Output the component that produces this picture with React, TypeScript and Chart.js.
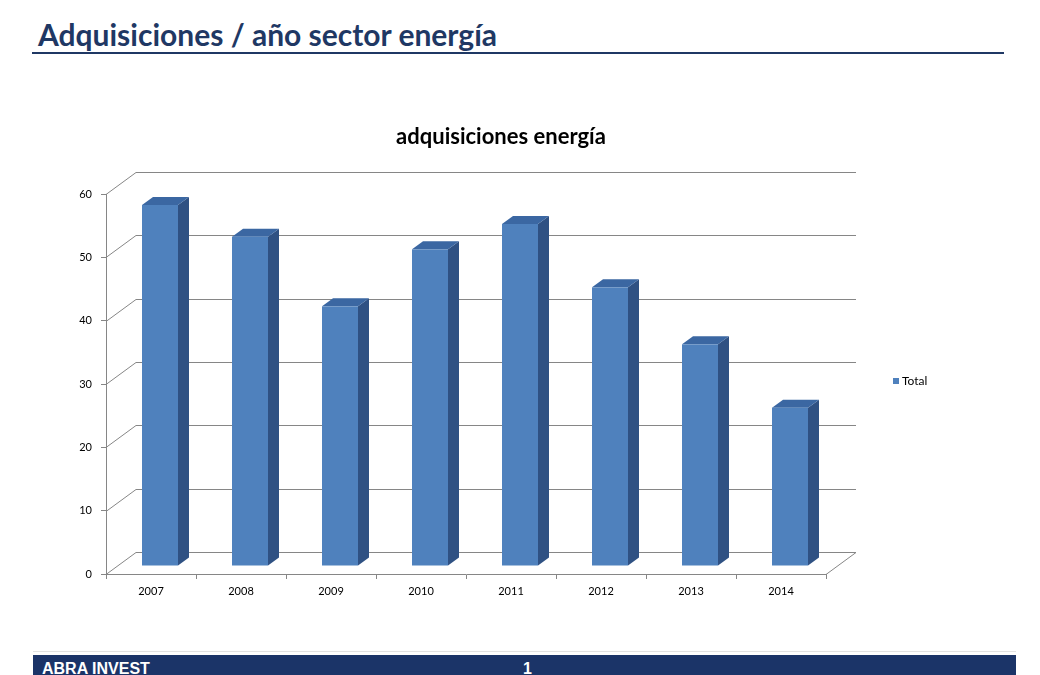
import React, { useEffect, useRef } from "react";
import { Chart, registerables } from "chart.js";

Chart.register(...registerables);

const categories = ["2007", "2008", "2009", "2010", "2011", "2012", "2013", "2014"];
const totals = [57, 52, 41, 50, 54, 44, 35, 25];
const seriesName = "Total";
const chartTitle = "adquisiciones energía";
const pageTitle = "Adquisiciones / año sector energía";
const footerLeft = "ABRA INVEST";
const footerPage = "1";

const FRONT = "#4F81BD";
const SIDE = "#2F5183";
const TOP = "#3B67A2";
const GRID = "#868686";
const FONT = "Lato, 'Noto Sans', sans-serif";

// wall depth and bar offsets (pixels)
const WALL_DX = 30;
const WALL_DY = -22;
const BAR_OX = 9;
const BAR_OY = -8;
const SIDE_DX = 11;
const SIDE_DY = -8;

const threeD = {
  id: "threeD",
  beforeDatasetsDraw(chart: any) {
    const { ctx, chartArea } = chart;
    const y = chart.scales.y;
    const { left, right, bottom } = chartArea;
    ctx.save();
    ctx.strokeStyle = GRID;
    ctx.lineWidth = 1;
    y.ticks.forEach((t: any) => {
      const py = Math.round(y.getPixelForValue(t.value)) + 0.5;
      ctx.beginPath();
      ctx.moveTo(left, py);
      ctx.lineTo(left + WALL_DX, py + WALL_DY);
      ctx.lineTo(right + WALL_DX, py + WALL_DY);
      ctx.stroke();
    });
    const by = Math.round(bottom) + 0.5;
    ctx.beginPath();
    ctx.moveTo(right, by);
    ctx.lineTo(right + WALL_DX, by + WALL_DY);
    ctx.stroke();
    ctx.restore();
  },
  afterDatasetsDraw(chart: any) {
    const { ctx } = chart;
    const meta = chart.getDatasetMeta(0);
    ctx.save();
    meta.data.forEach((el: any) => {
      const p = el.getProps(["x", "y", "base", "width"], true);
      const x1 = p.x - p.width / 2 + BAR_OX;
      const x2 = p.x + p.width / 2 + BAR_OX;
      const top = p.y + BAR_OY;
      const bot = p.base + BAR_OY;
      // side
      ctx.fillStyle = SIDE;
      ctx.beginPath();
      ctx.moveTo(x2, top);
      ctx.lineTo(x2 + SIDE_DX, top + SIDE_DY);
      ctx.lineTo(x2 + SIDE_DX, bot + SIDE_DY);
      ctx.lineTo(x2, bot);
      ctx.closePath();
      ctx.fill();
      // top
      ctx.fillStyle = TOP;
      ctx.beginPath();
      ctx.moveTo(x1, top);
      ctx.lineTo(x1 + SIDE_DX, top + SIDE_DY);
      ctx.lineTo(x2 + SIDE_DX, top + SIDE_DY);
      ctx.lineTo(x2, top);
      ctx.closePath();
      ctx.fill();
      // front
      ctx.fillStyle = FRONT;
      ctx.fillRect(x1, top, x2 - x1, bot - top);
    });
    ctx.restore();
  },
  afterDraw(chart: any) {
    const { ctx } = chart;
    ctx.save();
    ctx.fillStyle = "#000";
    ctx.font = `bold 22px ${FONT}`;
    ctx.textAlign = "center";
    ctx.textBaseline = "middle";
    ctx.fillText(chartTitle, 501, 137);
    // legend
    ctx.fillStyle = FRONT;
    ctx.fillRect(893, 378, 6, 6);
    ctx.fillStyle = "#000";
    ctx.font = `12px ${FONT}`;
    ctx.textAlign = "left";
    ctx.fillText(seriesName, 902, 381);
    ctx.restore();
  },
};

function ChartCanvas() {
  const ref = useRef<HTMLCanvasElement>(null);
  useEffect(() => {
    if (!ref.current) return;
    const chart = new Chart(ref.current, {
      type: "bar",
      data: {
        labels: categories,
        datasets: [
          {
            label: seriesName,
            data: totals,
            backgroundColor: "rgba(0,0,0,0)",
            borderWidth: 0,
            categoryPercentage: 1,
            barPercentage: 0.4,
          },
        ],
      },
      options: {
        animation: false,
        responsive: false,
        devicePixelRatio: 1,
        layout: { padding: { left: 76, top: 194, right: 214, bottom: 71 } },
        plugins: { legend: { display: false }, title: { display: false }, tooltip: { enabled: false } },
        scales: {
          x: {
            afterFit: (s: any) => {
              s.height = 30;
            },
            grid: { drawOnChartArea: false, drawTicks: true, tickLength: 5, color: GRID, offset: true },
            border: { display: true, color: GRID },
            ticks: { color: "#000", font: { family: FONT, size: 11 }, padding: 6, maxRotation: 0 },
          },
          y: {
            min: 0,
            max: 60,
            afterFit: (s: any) => {
              s.width = 30;
            },
            grid: { drawOnChartArea: false, drawTicks: true, tickLength: 5, color: GRID },
            border: { display: true, color: GRID },
            ticks: { stepSize: 10, color: "#000", font: { family: FONT, size: 11 }, padding: 9 },
          },
        },
      },
      plugins: [threeD],
    });
    return () => chart.destroy();
  }, []);
  return (
    <canvas
      ref={ref}
      width={1040}
      height={675}
      style={{ position: "absolute", left: 0, top: 0, width: 1040, height: 675 }}
    />
  );
}

export default function App() {
  return (
    <div
      style={{
        position: "fixed",
        left: 0,
        top: 0,
        width: 1040,
        height: 675,
        overflow: "hidden",
        background: "#fff",
        fontFamily: FONT,
      }}
    >
      <div
        style={{
          position: "absolute",
          left: 38,
          top: 17,
          fontSize: 30,
          fontWeight: 700,
          color: "#1F3864",
          lineHeight: "34px",
          whiteSpace: "nowrap",
        }}
      >
        {pageTitle}
      </div>
      <div style={{ position: "absolute", left: 32, top: 52, width: 972, height: 2, background: "#1F3864" }} />
      <ChartCanvas />
      <div style={{ position: "absolute", left: 33, top: 651, width: 983, height: 1, background: "#E2E2E2" }} />
      <div style={{ position: "absolute", left: 33, top: 655, width: 983, height: 20, background: "#1B3468" }} />
      <div
        style={{
          position: "absolute",
          left: 42,
          top: 660,
          color: "#fff",
          fontFamily: "'Liberation Sans Narrow', 'Liberation Sans', sans-serif",
          fontWeight: 700,
          fontSize: 16,
          lineHeight: "18px",
          whiteSpace: "nowrap",
        }}
      >
        {footerLeft}
      </div>
      <div
        style={{
          position: "absolute",
          left: 523,
          top: 660,
          color: "#fff",
          fontFamily: "'Liberation Sans Narrow', 'Liberation Sans', sans-serif",
          fontWeight: 700,
          fontSize: 16,
          lineHeight: "18px",
        }}
      >
        {footerPage}
      </div>
    </div>
  );
}
